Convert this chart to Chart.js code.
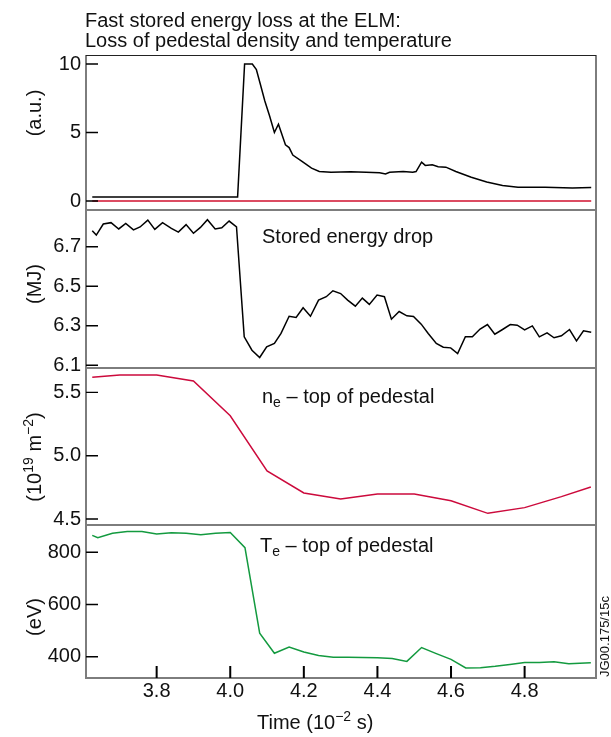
<!DOCTYPE html>
<html><head><meta charset="utf-8">
<script src="https://cdn.jsdelivr.net/npm/chart.js@4/dist/chart.umd.min.js"></script>
<style>html,body{margin:0;padding:0;background:#fff;}#wrap{position:relative;width:611px;height:737px;}</style>
</head><body><div id="wrap"><canvas id="c" width="611" height="737"></canvas></div>
<script>
const FONT = '"Liberation Sans", Arial, Helvetica, sans-serif';

// Fast stored energy loss (a.u.)
const lossTime = [3.625, 4.020, 4.039, 4.060, 4.071, 4.082, 4.094, 4.107, 4.120, 4.131, 4.150, 4.160, 4.170, 4.195, 4.221, 4.242, 4.274, 4.327, 4.369, 4.406, 4.422, 4.433, 4.470, 4.496, 4.505, 4.520, 4.530, 4.549, 4.565, 4.586, 4.613, 4.655, 4.697, 4.740, 4.782, 4.856, 4.930, 4.981];
const lossValue = [0.30, 0.30, 10.0, 10.0, 9.6, 8.5, 7.3, 6.2, 5.0, 5.6, 4.1, 3.9, 3.35, 2.9, 2.4, 2.15, 2.1, 2.13, 2.1, 2.06, 1.97, 2.1, 2.15, 2.1, 2.15, 2.83, 2.6, 2.64, 2.5, 2.47, 2.15, 1.73, 1.39, 1.13, 1.0, 1.0, 0.94, 0.98];
const zeroTime = [3.625, 4.981];
const zeroValue = [0, 0];

// Stored energy (MJ)
const wTime = [3.625,3.636,3.655,3.676,3.697,3.716,3.737,3.755,3.776,3.795,3.816,3.840,3.859,3.880,3.900,3.919,3.938,3.959,3.977,3.997,4.017,4.038,4.059,4.080,4.099,4.120,4.138,4.160,4.179,4.198,4.218,4.240,4.261,4.279,4.300,4.319,4.340,4.359,4.378,4.399,4.419,4.438,4.459,4.480,4.498,4.519,4.538,4.560,4.579,4.599,4.618,4.639,4.658,4.679,4.699,4.719,4.740,4.761,4.780,4.800,4.821,4.840,4.861,4.880,4.900,4.922,4.941,4.960,4.981];
const wValue = [6.781,6.759,6.815,6.822,6.790,6.818,6.785,6.800,6.835,6.788,6.822,6.793,6.774,6.812,6.768,6.798,6.837,6.790,6.796,6.830,6.801,6.244,6.176,6.139,6.193,6.210,6.261,6.348,6.342,6.391,6.348,6.430,6.447,6.477,6.463,6.430,6.399,6.440,6.408,6.455,6.447,6.333,6.372,6.350,6.347,6.308,6.261,6.210,6.191,6.188,6.159,6.244,6.244,6.283,6.306,6.257,6.281,6.306,6.303,6.279,6.299,6.244,6.264,6.239,6.249,6.281,6.223,6.274,6.267];

// n_e top of pedestal (1e19 m^-2)
const neTime = [3.625,3.70,3.80,3.90,4.00,4.10,4.20,4.30,4.40,4.50,4.60,4.70,4.80,4.90,4.98];
const neValue = [5.619,5.637,5.637,5.590,5.315,4.880,4.706,4.658,4.698,4.698,4.645,4.545,4.590,4.677,4.753];

// T_e top of pedestal (eV)
const teTime = [3.625,3.64,3.68,3.72,3.76,3.80,3.84,3.88,3.92,3.96,4.00,4.04,4.08,4.12,4.16,4.20,4.24,4.28,4.32,4.36,4.40,4.44,4.48,4.52,4.56,4.60,4.64,4.68,4.72,4.76,4.80,4.84,4.88,4.92,4.98];
const teValue = [865,856,873,880,880,870,875,873,867,873,876,818,490,413,437,418,405,398,398,397,396,393,382,435,412,390,357,358,363,370,378,378,381,373,377];

// ticks
const timeTicks = [3.8, 4.0, 4.2, 4.4, 4.6, 4.8];
const lossTicks = [0, 5, 10];
const wTicks = [6.1, 6.3, 6.5, 6.7];
const neTicks = [4.5, 5.0, 5.5];
const teTicks = [400, 600, 800];

const pts = (xs, ys) => xs.map((x, i) => ({x: x, y: ys[i]}));

function drawRuns(ctx, x, y, runs) {
  let cx = x;
  for (const r of runs) {
    ctx.font = r.size + 'px ' + FONT;
    ctx.fillText(r.t, cx, y + (r.dy || 0));
    cx += ctx.measureText(r.t).width;
  }
  return cx - x;
}
function runsWidth(ctx, runs) {
  let w = 0;
  for (const r of runs) { ctx.font = r.size + 'px ' + FONT; w += ctx.measureText(r.t).width; }
  return w;
}
function drawRotated(ctx, cx, cy, runs) {
  ctx.save();
  ctx.translate(cx, cy);
  ctx.rotate(-Math.PI / 2);
  const w = runsWidth(ctx, runs);
  drawRuns(ctx, -w / 2, 0, runs);
  ctx.restore();
}

const framePlugin = {
  id: 'frame',
  afterDatasetsDraw(chart) {
    const ctx = chart.ctx, a = chart.chartArea;
    const ys = ['yLoss', 'yW', 'yNe', 'yTe'].map(id => chart.scales[id]);
    ctx.save();
    ctx.lineCap = 'butt';
    // panel frames
    ctx.strokeStyle = '#7d7d7d';
    ctx.lineWidth = 2;
    ctx.beginPath();
    for (let i = 1; i < ys.length; i++) {
      const y = Math.round(ys[i].top);
      ctx.moveTo(a.left, y); ctx.lineTo(a.right, y);
    }
    ctx.moveTo(a.left, a.top); ctx.lineTo(a.left, a.bottom);
    ctx.moveTo(a.right, a.top); ctx.lineTo(a.right, a.bottom);
    ctx.moveTo(a.left - 1, a.bottom); ctx.lineTo(a.right + 1, a.bottom);
    ctx.stroke();
    ctx.strokeStyle = '#222';
    ctx.lineWidth = 1.2;
    ctx.beginPath();
    ctx.moveTo(a.left, a.top + 0.5); ctx.lineTo(a.right, a.top + 0.5);
    ctx.stroke();
    // y tick marks (inward)
    ctx.strokeStyle = '#000';
    ctx.lineWidth = 1.4;
    ctx.beginPath();
    for (const s of ys) {
      for (const t of s.ticks) {
        const p = s.getPixelForValue(t.value);
        ctx.moveTo(a.left, p); ctx.lineTo(a.left + 12, p);
      }
    }
    ctx.stroke();
    // x tick marks (inward)
    const xs = chart.scales.x;
    ctx.lineWidth = 2;
    ctx.beginPath();
    for (const t of xs.ticks) {
      const p = xs.getPixelForValue(t.value);
      ctx.moveTo(p, a.bottom); ctx.lineTo(p, a.bottom - 12);
    }
    ctx.stroke();

    // texts
    ctx.fillStyle = '#111';
    ctx.textBaseline = 'alphabetic';
    ctx.textAlign = 'left';
    ctx.font = '20px ' + FONT;
    ctx.fillText('Fast stored energy loss at the ELM:', 85, 27);
    ctx.fillText('Loss of pedestal density and temperature', 85, 47);

    drawRuns(ctx, 262, 243, [{t: 'Stored energy drop', size: 20}]);
    drawRuns(ctx, 262, 403, [{t: 'n', size: 20}, {t: 'e', size: 14, dy: 4}, {t: ' \u2013 top of pedestal', size: 20}]);
    drawRuns(ctx, 260, 552, [{t: 'T', size: 20}, {t: 'e', size: 14, dy: 4}, {t: ' \u2013 top of pedestal', size: 20}]);

    drawRuns(ctx, 257, 729, [{t: 'Time (10', size: 20}, {t: '\u22122', size: 14, dy: -8}, {t: ' s)', size: 20}]);

    drawRotated(ctx, 41, 113, [{t: '(a.u.)', size: 20}]);
    drawRotated(ctx, 41, 284, [{t: '(MJ)', size: 20}]);
    drawRotated(ctx, 41, 457, [{t: '(10', size: 20}, {t: '19', size: 14, dy: -8}, {t: ' m', size: 20}, {t: '\u22122', size: 14, dy: -8}, {t: ')', size: 20}]);
    drawRotated(ctx, 41, 617, [{t: '(eV)', size: 20}]);

    ctx.save();
    ctx.translate(609, 677);
    ctx.rotate(-Math.PI / 2);
    ctx.font = '13px ' + FONT;
    ctx.fillText('JG00.175/15c', 0, 0);
    ctx.restore();

    ctx.restore();
  }
};

function yScale(stackWeight, min, max, tickArr, fmt) {
  return {
    type: 'linear', position: 'left', stack: 'panels', stackWeight: stackWeight,
    min: min, max: max,
    grid: {display: false, drawTicks: false},
    border: {display: false},
    ticks: {font: {family: FONT, size: 20}, color: '#111', padding: 5, callback: fmt, autoSkip: false},
    afterBuildTicks: s => { s.ticks = tickArr.map(v => ({value: v})); },
    afterFit: s => { s.width = 86; }
  };
}

const lineDs = (label, data, color, axis) => ({
  label: label, data: data, borderColor: color, borderWidth: 1.5,
  pointRadius: 0, fill: false, tension: 0, yAxisID: axis, xAxisID: 'x'
});

new Chart(document.getElementById('c'), {
  type: 'line',
  data: {
    datasets: [
      lineDs('zero', pts(zeroTime, zeroValue), '#d0102e', 'yLoss'),
      lineDs('Fast stored energy loss', pts(lossTime, lossValue), '#000', 'yLoss'),
      lineDs('Stored energy', pts(wTime, wValue), '#000', 'yW'),
      lineDs('n_e top of pedestal', pts(neTime, neValue), '#cc0a3c', 'yNe'),
      lineDs('T_e top of pedestal', pts(teTime, teValue), '#139a3f', 'yTe')
    ]
  },
  options: {
    responsive: false,
    devicePixelRatio: 1,
    animation: false,
    parsing: false,
    layout: {padding: {top: 55, right: 15, left: 0, bottom: 0}},
    plugins: {legend: {display: false}, tooltip: {enabled: false}, title: {display: false}},
    scales: {
      x: {
        type: 'linear', position: 'bottom', min: 3.608, max: 4.994,
        grid: {display: false, drawTicks: false},
        border: {display: false},
        ticks: {font: {family: FONT, size: 20}, color: '#111', padding: 1, maxRotation: 0, autoSkip: false,
                callback: v => Number(v).toFixed(1)},
        afterBuildTicks: s => { s.ticks = timeTicks.map(v => ({value: v})); },
        afterFit: s => { s.height = 59; }
      },
      yTe: yScale(153, 318.4, 904.6, teTicks, v => String(v)),
      yNe: yScale(157, 4.453, 5.692, neTicks, v => Number(v).toFixed(1)),
      yW: yScale(158, 6.086, 6.886, wTicks, v => Number(v).toFixed(1)),
      yLoss: yScale(155, -0.657, 10.657, lossTicks, v => String(v))
    }
  },
  plugins: [framePlugin]
});
</script>
</body></html>
